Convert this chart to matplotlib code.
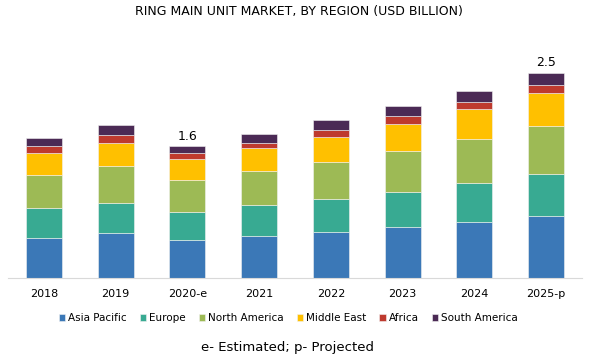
import matplotlib
matplotlib.use('Agg')
import matplotlib.pyplot as plt
import numpy as np

years = ['2018', '2019', '2020-e', '2021', '2022', '2023', '2024', '2025-p']
regions = ['Asia Pacific', 'Europe', 'North America', 'Middle East', 'Africa', 'South America']

asia_pacific = [0.49, 0.55, 0.46, 0.51, 0.56, 0.62, 0.68, 0.76]
europe = [0.37, 0.37, 0.35, 0.38, 0.41, 0.43, 0.48, 0.51]
north_america = [0.40, 0.45, 0.38, 0.41, 0.45, 0.50, 0.54, 0.58]
middle_east = [0.27, 0.28, 0.26, 0.28, 0.30, 0.33, 0.36, 0.40]
africa = [0.08, 0.09, 0.07, 0.07, 0.09, 0.09, 0.09, 0.10]
south_america = [0.10, 0.12, 0.09, 0.11, 0.11, 0.13, 0.13, 0.15]

labels_shown = {2: '1.6', 7: '2.5'}

colors = ['#3B78B7', '#38AA92', '#9DBA55', '#FFC000', '#BE3A2E', '#4B2A55']

series = [asia_pacific, europe, north_america, middle_east, africa, south_america]

fig = plt.figure(figsize=(5.92, 3.6), dpi=100)
ax = fig.add_axes([8 / 592, 1 - 278.3 / 360, 574 / 592, 238.4 / 360])

x = np.arange(len(years))
bottom = np.zeros(len(years))
for name, vals, col in zip(regions, series, colors):
    ax.bar(x, vals, width=0.5, bottom=bottom, color=col, label=name,
           edgecolor='#f2f2f2', linewidth=0.4)
    bottom += np.array(vals)

for i, txt in labels_shown.items():
    ax.text(x[i], bottom[i] + 0.04, txt, ha='center', va='bottom',
            fontsize=9, color='black')

ax.set_xlim(-0.5, len(years) - 0.5)
ax.set_ylim(0, 2.9)
ax.set_xticks(x)
ax.set_xticklabels(years, fontsize=8)
ax.tick_params(axis='x', length=0, pad=8)
ax.set_yticks([])
for s in ['top', 'left', 'right']:
    ax.spines[s].set_visible(False)
ax.spines['bottom'].set_color('#d9d9d9')

fig.text(0.505, 1 - 11 / 360, 'RING MAIN UNIT MARKET, BY REGION (USD BILLION)',
         ha='center', va='center', fontsize=9)

fig.legend(loc='center', bbox_to_anchor=(0.487, 1 - 318 / 360), ncol=6,
           frameon=False, fontsize=7.5, handlelength=0.6, handleheight=0.6,
           handletextpad=0.3, columnspacing=1.25)

fig.text(0.485, 1 - 347 / 360, 'e- Estimated; p- Projected',
         ha='center', va='center', fontsize=9.5)

plt.savefig('out.png', dpi=100)
plt.close('all')
